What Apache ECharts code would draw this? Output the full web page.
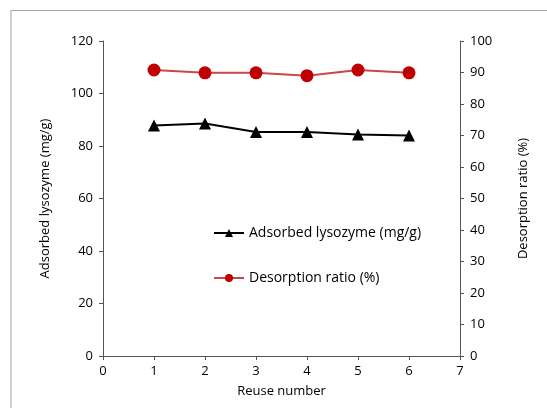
<!DOCTYPE html>
<html>
<head>
<meta charset="utf-8">
<script src="https://cdn.jsdelivr.net/npm/echarts@6/dist/echarts.min.js"></script>
<style>
  html, body { margin: 0; padding: 0; background: #fff; }
  #frame {
    position: absolute; left: 10px; top: 10px; width: 537px; height: 398px;
    border-top: 1px solid #a8a8a8; border-left: 2px solid #cfcfcf;
  }
  #chart { position: absolute; left: 0; top: 0; width: 547px; height: 408px; }
</style>
</head>
<body>
<div id="frame"></div>
<div id="chart"></div>
<script>
const reuse = [1, 2, 3, 4, 5, 6]
const adsorbed = [87.8, 88.6, 85.3, 85.3, 84.4, 84.0]
const desorption = [90.8, 89.9, 89.9, 89.0, 90.8, 89.9]

const font = 'Open Sans'
const axisColor = '#555'
const textColor = '#000'

const chart = echarts.init(document.getElementById('chart'))
chart.setOption({
  animation: false,
  textStyle: { fontFamily: font },
  grid: { left: 103, right: 87, top: 41, bottom: 52 },
  legend: {
    orient: 'vertical',
    left: 208,
    top: 221,
    itemGap: 31,
    itemWidth: 30,
    itemHeight: 10,
    textStyle: { fontFamily: font, fontSize: 14, color: textColor },
    data: ['Adsorbed lysozyme (mg/g)', 'Desorption ratio (%)']
  },
  xAxis: {
    type: 'value',
    min: 0, max: 7, interval: 1,
    name: 'Reuse number',
    nameLocation: 'middle',
    nameGap: 29,
    nameTextStyle: { fontSize: 13, color: textColor },
    axisLine: { show: true, lineStyle: { color: axisColor } },
    axisTick: { show: true, length: 4, lineStyle: { color: axisColor } },
    axisLabel: { fontSize: 13, color: textColor, margin: 9 },
    splitLine: { show: false }
  },
  yAxis: [
    {
      type: 'value',
      min: 0, max: 120, interval: 20,
      name: 'Adsorbed lysozyme (mg/g)',
      nameLocation: 'middle',
      nameGap: 51,
      nameTextStyle: { fontSize: 13, color: textColor },
      axisLine: { show: true, lineStyle: { color: axisColor } },
      axisTick: { show: true, length: 4, lineStyle: { color: axisColor } },
      axisLabel: { fontSize: 13, color: textColor, margin: 10 },
      splitLine: { show: false }
    },
    {
      type: 'value',
      min: 0, max: 100, interval: 10,
      name: 'Desorption ratio (%)',
      nameLocation: 'middle',
      nameGap: 57,
      nameRotate: 90,
      nameTextStyle: { fontSize: 13, color: textColor },
      axisLine: { show: true, lineStyle: { color: axisColor } },
      axisTick: { show: true, length: 4, lineStyle: { color: axisColor } },
      axisLabel: { fontSize: 13, color: textColor, margin: 10 },
      splitLine: { show: false }
    }
  ],
  series: [
    {
      name: 'Adsorbed lysozyme (mg/g)',
      type: 'line',
      yAxisIndex: 0,
      data: reuse.map((x, i) => [x, adsorbed[i]]),
      symbol: 'triangle',
      symbolSize: 12,
      itemStyle: { color: '#000' },
      lineStyle: { color: '#000', width: 2 }
    },
    {
      name: 'Desorption ratio (%)',
      type: 'line',
      yAxisIndex: 1,
      data: reuse.map((x, i) => [x, desorption[i]]),
      symbol: 'circle',
      symbolSize: 13,
      itemStyle: { color: '#c00000', borderWidth: 0 },
      lineStyle: { color: '#c84848', width: 2 }
    }
  ]
})
</script>
</body>
</html>
